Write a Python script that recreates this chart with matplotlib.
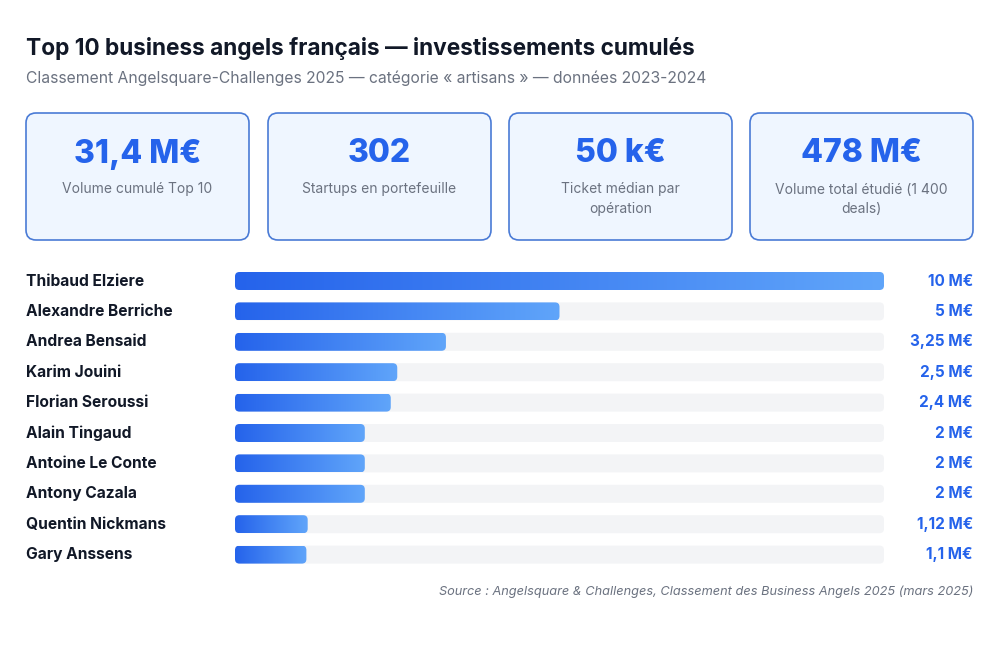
import matplotlib
matplotlib.use("Agg")
import matplotlib.pyplot as plt
from matplotlib.patches import FancyBboxPatch
from matplotlib.colors import LinearSegmentedColormap
import numpy as np

plt.rcParams['font.family'] = ['Inter', 'DejaVu Sans']

# données
noms = ["Thibaud Elziere", "Alexandre Berriche", "Andrea Bensaid", "Karim Jouini",
        "Florian Seroussi", "Alain Tingaud", "Antoine Le Conte", "Antony Cazala",
        "Quentin Nickmans", "Gary Anssens"]
montants = [10, 5, 3.25, 2.5, 2.4, 2, 2, 2, 1.12, 1.1]
etiquettes = ["10 M€", "5 M€", "3,25 M€", "2,5 M€", "2,4 M€", "2 M€", "2 M€", "2 M€",
              "1,12 M€", "1,1 M€"]

kpi_valeurs = ["31,4 M€", "302", "50 k€", "478 M€"]
kpi_libelles = ["Volume cumulé Top 10", "Startups en portefeuille",
                "Ticket médian par\nopération", "Volume total étudié (1 400\ndeals)"]

titre = "Top 10 business angels français — investissements cumulés"
sous_titre = "Classement Angelsquare-Challenges 2025 — catégorie « artisans » — données 2023-2024"
source = "Source : Angelsquare & Challenges, Classement des Business Angels 2025 (mars 2025)"

BLEU = "#2563eb"
BLEU_CLAIR = "#60a5fa"
W, H = 1000, 648

fig = plt.figure(figsize=(W / 100, H / 100), dpi=100)
fig.patch.set_facecolor("white")

# calque en pixels pour le texte et les cartes
fond = fig.add_axes([0, 0, 1, 1])
fond.set_xlim(0, W)
fond.set_ylim(H, 0)
fond.axis("off")

fond.text(26, 49, titre, fontsize=16.3, fontweight="bold", color="#111827", va="center")
fond.text(26, 78, sous_titre, fontsize=11.3, color="#6b7280", va="center")

cartes_x = [26, 268, 509, 750]
larg_carte, haut_carte = 223, 127
for x0, val, lib in zip(cartes_x, kpi_valeurs, kpi_libelles):
    carte = FancyBboxPatch((x0, 113), larg_carte, haut_carte,
                           boxstyle="round,pad=0,rounding_size=10",
                           facecolor="#eff6ff", edgecolor="#4a7bd6", linewidth=1.2)
    fond.add_patch(carte)
    cx = x0 + larg_carte / 2
    fond.text(cx, 154, val, fontsize=23, fontweight="heavy", color=BLEU,
              ha="center", va="center")
    fond.text(cx, 182.5, lib, fontsize=10, color="#6b7280", ha="center", va="top",
              linespacing=1.5)

fond.text(973, 592, source, fontsize=9.2, style="italic", color="#6b7280",
          ha="right", va="center")

# barres
x_gauche, x_droite = 235, 884
y_haut, pas = 281, 30.4
n = len(noms)
y_top_px = y_haut - pas / 2
y_bas_px = y_haut + (n - 0.5) * pas
ax = fig.add_axes([x_gauche / W, 1 - y_bas_px / H,
                   (x_droite - x_gauche) / W, (y_bas_px - y_top_px) / H])
ax.axis("off")

px_x = (x_droite - x_gauche) / max(montants)  # px par unité x
px_y = pas  # px par unité y
aspect = px_x / px_y
h_barre = 18 / pas
r = 4.5 / px_x

cmap = LinearSegmentedColormap.from_list("deg", [BLEU, BLEU_CLAIR])
degrade = np.linspace(0, 1, 256).reshape(1, -1)

for i, (nom, v, lab) in enumerate(zip(noms, montants, etiquettes)):
    piste = FancyBboxPatch((0, i - h_barre / 2), max(montants), h_barre,
                           boxstyle=f"round,pad=0,rounding_size={r}",
                           mutation_aspect=aspect,
                           facecolor="#f3f4f6", edgecolor="none", zorder=0.5)
    ax.add_patch(piste)
    barre = FancyBboxPatch((0, i - h_barre / 2), v, h_barre,
                           boxstyle=f"round,pad=0,rounding_size={r}",
                           mutation_aspect=aspect,
                           facecolor="none", edgecolor="none", zorder=1)
    ax.add_patch(barre)
    im = ax.imshow(degrade, cmap=cmap, aspect="auto", interpolation="bilinear",
                   extent=[0, v, i + h_barre / 2, i - h_barre / 2], zorder=2)
    im.set_clip_path(barre)
    fond.text(26, y_haut + i * pas, nom, fontsize=11.2, fontweight="bold",
              color="#111827", va="center")
    fond.text(973, y_haut + i * pas, lab, fontsize=11, fontweight="bold",
              color=BLEU, ha="right", va="center")

ax.set_xlim(0, max(montants))
ax.set_ylim(n - 0.5, -0.5)

fig.savefig("out.png", dpi=100, facecolor="white")
